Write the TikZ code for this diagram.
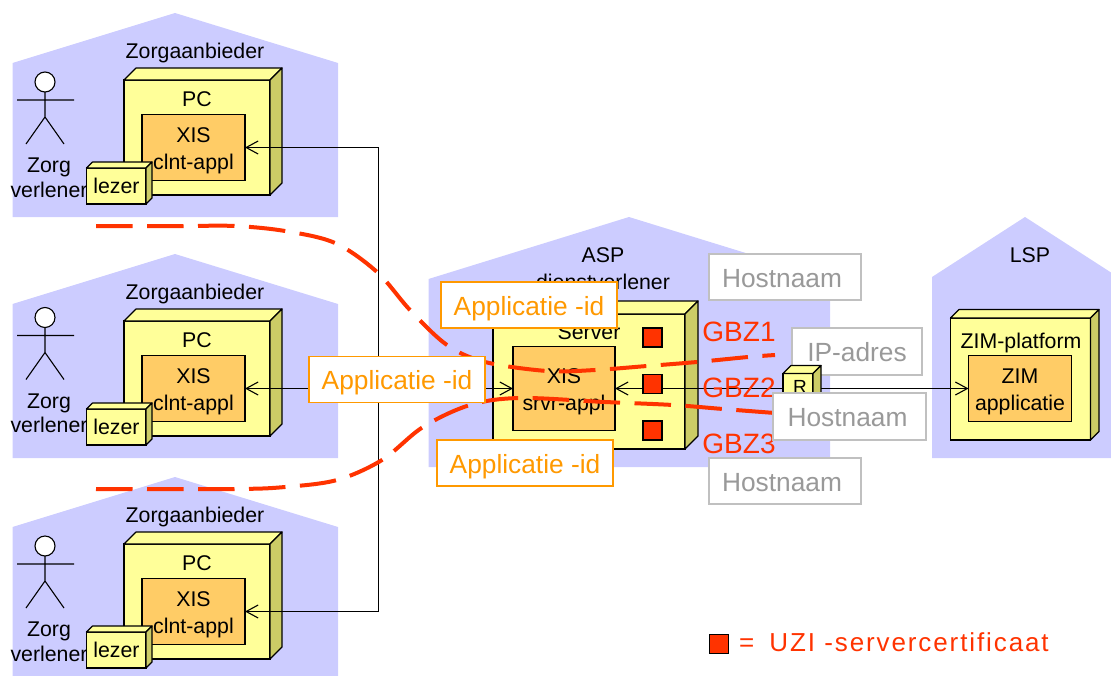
\documentclass[tikz,border=0pt]{standalone}
\usepackage{fontspec}
\setmainfont{Liberation Sans}
\newfontfamily\widefont[LetterSpace=7.3]{Liberation Sans}
\usetikzlibrary{arrows.meta,calc}
\definecolor{housecol}{HTML}{CCCCFF}
\definecolor{nodecol}{HTML}{FFFF99}
\definecolor{sidecol}{HTML}{CCCC66}
\definecolor{applcol}{HTML}{FFCC66}
\definecolor{gbzcol}{HTML}{FF3300}
\definecolor{idcol}{HTML}{FF9900}
\definecolor{addrcol}{HTML}{999999}
\definecolor{addrline}{HTML}{C0C0C0}
\tikzset{
	barb/.tip={Straight Barb[length=12pt,width=13pt]},
	txt/.style={font=\fontsize{21.3}{24.5}\selectfont,align=center,inner sep=0,text=black},
	frontface/.style={draw,fill=nodecol,line width=1.2pt,inner sep=0,outer sep=0},
	topface/.style={draw,fill=nodecol,line width=1.2pt,line join=round},
	sideface/.style={draw,fill=sidecol,line width=1.2pt,line join=round},
	applbox/.style={frontface,fill=applcol,align=center,font=\fontsize{21.3}{27}\selectfont,text height=44pt,text depth=0pt},
	link/.style={line width=1.1pt},
	gbzline/.style={draw=gbzcol,line width=4pt,dash pattern=on 36.5pt off 14.5pt},
	gbzlabel/.style={font=\fontsize{28}{32}\selectfont,text=gbzcol,inner sep=0},
	legendlabel/.style={font=\widefont\fontsize{26}{30}\selectfont,text=gbzcol,inner sep=0},
	certbox/.style={draw,fill=gbzcol,line width=1.2pt,minimum size=19pt,inner sep=0,outer sep=0},
	idbox/.style={draw=idcol,fill=white,line width=1.3pt,text=idcol,minimum width=176pt,minimum height=46pt,inner sep=0,font=\fontsize{26.3}{30}\selectfont,text height=20pt,text depth=0pt},
	addrbox/.style={draw=addrline,fill=white,line width=1.3pt,text=addrcol,minimum height=46pt,inner sep=0,font=\fontsize{26.3}{30}\selectfont,text height=20pt,text depth=0pt},
}
\newcommand{\cubenode}[6]{
	\node[frontface,minimum width=#4pt,minimum height=#5pt,anchor=north west] (#1) at (#2,#3) {};
	\draw[topface] (#1.north west) -- ++(#6,-#6) -- ++(#4,0) -- (#1.north east) -- cycle;
	\draw[sideface] (#1.north east) -- ++(#6,-#6) -- ++(0,#5) -- (#1.south east) -- cycle;
}
\begin{document}
\begin{tikzpicture}[x=1pt,y=-1pt]
	\useasboundingbox (0,0) rectangle (1111,675);
	\clip (0,0) rectangle (1111,675);
	% sites
	\fill [housecol] (428.5,279) -- (629,217) -- (830,279) -- (830,467) -- (428.5,467) -- cycle;
	\fill [housecol] (932,277) -- (1025,217) -- (1118,277) -- (1118,458) -- (932,458) -- cycle;
	\node[txt] (aspname) at (603,255) {ASP};
	\node[txt] (aspname2) at (603,282) {dienstverlener};
	\node[txt] (lspname) at (1030,255) {LSP};
	% the three care providers
	\foreach \o/\n/\p in {0/a/0,241/b/-5.5,464/c/0}{
		\begin{scope}[shift={(0,\o)}]
			\fill [housecol] (12.5,63) -- (175,13) -- (338,63) -- (338,217) -- (12.5,217) -- cycle;
			\node[txt] (name\n) at (195,52.5) {Zorgaanbieder};
			\draw [line width=1.1pt,fill=white] (45,82+\p) circle (10);
			\draw [line width=1.1pt] (45,92+\p) -- ++(0,25) coordinate (hip\n) -- ++(-19,27) (hip\n) -- ++(19,27) (17,100+\p) -- ++(57,0);
			\node[txt] (actor\n) at (49,178+\p) {Zorg\\verlener};
			\cubenode{pc\n}{124}{80}{146}{115}{12}
			\node[txt] (pclabel\n) at (197,99) {PC};
			\node[applbox,minimum width=103pt,minimum height=66pt] (xis\n) at (193.5,147.5) {XIS\\clnt-appl};
			\cubenode{lez\n}{86.5}{168}{59.5}{36}{6}
			\node[txt] (lezlabel\n) at (116.5,186) {lezer};
		\end{scope}
	}
	% asp and lsp nodes
	\cubenode{server}{493}{314}{192}{135}{13}
	\node[txt] (serverlabel) at (589,332) {Server};
	\node[applbox,minimum width=102pt,minimum height=84pt] (srvr) at (564,388.5) {XIS\\srvr-appl};
	\cubenode{zimpf}{950.5}{318}{140}{122}{8.5}
	\node[txt] (zimlabel) at (1021,342.5) {ZIM-platform};
	\node[applbox,minimum width=103pt,minimum height=66pt] (zim) at (1020,388.5) {ZIM\\applicatie};
	% connections
	\coordinate (bus) at (378.5,388);
	\draw [link,-barb] (bus|-xisa.east) -- (xisa.east);
	\draw [link,-barb] (bus|-xisc.east) -- (xisc.east);
	\draw [link] (bus|-xisa.east) -- (bus|-xisc.east);
	\draw [link,barb-barb] (xisb.east) -- (srvr.west|-xisb.east);
	\node[addrbox,minimum width=130pt,minimum height=47pt] (ipaddr) at (857,351.5) {IP-adres};
	\cubenode{rout}{783}{373.5}{30}{30}{8}
	\node[txt,font=\fontsize{19}{22}\selectfont] (routlabel) at (800,387) {R};
	\draw [link,barb-] (srvr.east) -- (rout.west);
	\draw [link,-barb] (rout.east) ++(8,0) coordinate (routout) -- (zim.west);
	% certificates
	\node[certbox] (cert1) at (652.5,337.5) {};
	\node[certbox] (cert2) at (652.5,384) {};
	\node[certbox] (cert3) at (652.5,430.5) {};
	\node[gbzlabel] (gbz1) at (739,332) {GBZ1};
	\node[gbzlabel] (gbz2) at (739,388) {GBZ2};
	\node[gbzlabel] (gbz3) at (739,444) {GBZ3};
	% zones
	\draw [gbzline] plot[smooth,tension=.55] coordinates {(96,226) (183,226) (235,226) (285,231) (335,243) (377,272) (410,310) (447,345) (485,362) (547,371) (595,370) (647,366) (697,362) (748,357) (775,355)};
	\draw [gbzline] plot[smooth,tension=.55] coordinates {(96,489) (235,489) (285,487) (337,480) (382,460) (423,427) (470,405) (520,398) (605,402) (673,405) (723,409) (775,413)};
	% identifiers
	\node[idbox] (id1) at (529,305) {Applicatie -id};
	\node[idbox] (id2) at (397,379.5) {Applicatie -id};
	\node[idbox] (id3) at (525,463) {Applicatie -id};
	\node[addrbox,minimum width=152pt] (host1) at (785,277) {Hostnaam\kern6pt\relax};
	\node[addrbox,minimum width=153pt,minimum height=47pt] (host2) at (849.5,416.5) {Hostnaam\kern4pt\relax};
	\node[addrbox,minimum width=152pt] (host3) at (785,481) {Hostnaam\kern6pt\relax};
	% legend
	\node[certbox] (legbox) at (719,644) {};
	\node[legendlabel,anchor=west] (legtext) at (739,642) {=\hspace{6pt} UZI -servercertificaat};
\end{tikzpicture}
\end{document}
